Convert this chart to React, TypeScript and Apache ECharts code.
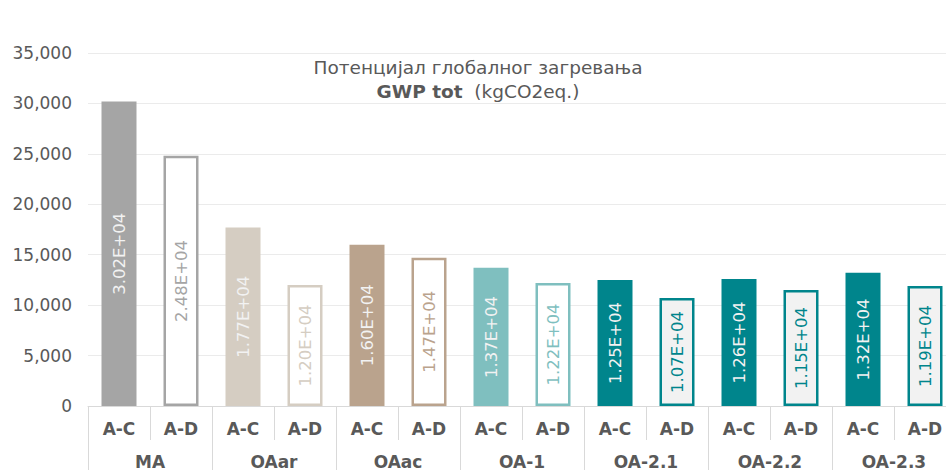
import React, { useEffect, useRef } from "react";
import * as echarts from "echarts";

const subCategories = ["A-C", "A-D", "A-C", "A-D", "A-C", "A-D", "A-C", "A-D", "A-C", "A-D", "A-C", "A-D", "A-C", "A-D"];
const groups = ["MA", "OAar", "OAac", "OA-1", "OA-2.1", "OA-2.2", "OA-2.3"];
const groupColors = ["#a5a5a5", "#d5cdc2", "#baa38d", "#7fbfbf", "#00858c", "#00858c", "#00858c"];
const adFills = ["#ffffff", "#ffffff", "#ffffff", "#ffffff", "#f2f2f2", "#f2f2f2", "#f2f2f2"];
const valuesAC = [30200, 17700, 16000, 13700, 12500, 12600, 13200];
const valuesAD = [24800, 12000, 14700, 12200, 10700, 11500, 11900];
const yTicks = [0, 5000, 10000, 15000, 20000, 25000, 30000, 35000];

const FONT = "DejaVu Sans";
const TXT = "#595959";

export default function App() {
  const ref = useRef<HTMLDivElement>(null);
  useEffect(() => {
    if (!ref.current) return;
    const chart = echarts.init(ref.current, undefined, { renderer: "svg" });
    const data: any[] = [];
    groups.forEach((g, i) => {
      const c = groupColors[i];
      data.push({
        value: valuesAC[i],
        itemStyle: { color: c },
        label: { color: "#f2f2f2" },
      });
      data.push({
        value: valuesAD[i],
        itemStyle: { color: adFills[i], borderColor: c, borderWidth: 2.5 },
        label: { color: c },
      });
    });
    chart.setOption({
      animation: false,
      textStyle: { fontFamily: FONT },
      grid: { left: 88, right: 34, top: 53, bottom: 64, containLabel: false },
      graphic: [
        {
          type: "text",
          x: 478,
          y: 55,
          style: {
            text: "{a|Потенцијал глобалног загревања}\n{b|GWP tot}{a|  (kgCO2eq.)}",
            align: "center",
            rich: {
              a: { fontSize: 18.5, fill: TXT, fontFamily: FONT, lineHeight: 24 },
              b: { fontSize: 18.5, fill: TXT, fontFamily: FONT, fontWeight: "bold", lineHeight: 24 },
            },
          },
        },
      ],
      xAxis: [
        {
          type: "category",
          data: subCategories,
          axisLine: { show: true, lineStyle: { color: "#d9d9d9", width: 1 } },
          axisTick: { show: true, interval: 0, length: 34, lineStyle: { color: "#d9d9d9" } },
          axisLabel: { interval: 0, margin: 14, color: TXT, fontSize: 17, fontWeight: "bold", fontFamily: FONT },
        },
        {
          type: "category",
          position: "bottom",
          data: groups,
          axisLine: { show: false },
          axisTick: { show: true, interval: 0, length: 70, lineStyle: { color: "#d9d9d9" } },
          axisLabel: { interval: 0, margin: 47, color: TXT, fontSize: 17, fontWeight: "bold", fontFamily: FONT },
        },
      ],
      yAxis: {
        type: "value",
        min: yTicks[0],
        max: yTicks[yTicks.length - 1],
        interval: 5000,
        axisLine: { show: false },
        axisTick: { show: false },
        splitLine: { lineStyle: { color: "#ebebeb", width: 1 } },
        axisLabel: {
          margin: 16,
          color: TXT,
          fontSize: 17,
          fontFamily: FONT,
          formatter: (v: number) => v.toLocaleString("en-US"),
        },
      },
      series: [
        {
          type: "bar",
          xAxisIndex: 0,
          barWidth: 35,
          data,
          label: {
            show: true,
            position: "inside",
            rotate: 90,
            fontSize: 16.5,
            fontFamily: FONT,
            formatter: (p: any) => {
              const v = p.value as number;
              const exp = Math.floor(Math.log10(v));
              const m = (v / Math.pow(10, exp)).toFixed(2);
              return `${m}E+${String(exp).padStart(2, "0")}`;
            },
          },
        },
      ],
    });
    return () => chart.dispose();
  }, []);
  return (
    <div style={{ position: "fixed", left: 0, top: 0, width: 946, height: 470, overflow: "hidden", background: "#fff" }}>
      <div ref={ref} style={{ width: 990, height: 470 }} />
    </div>
  );
}
